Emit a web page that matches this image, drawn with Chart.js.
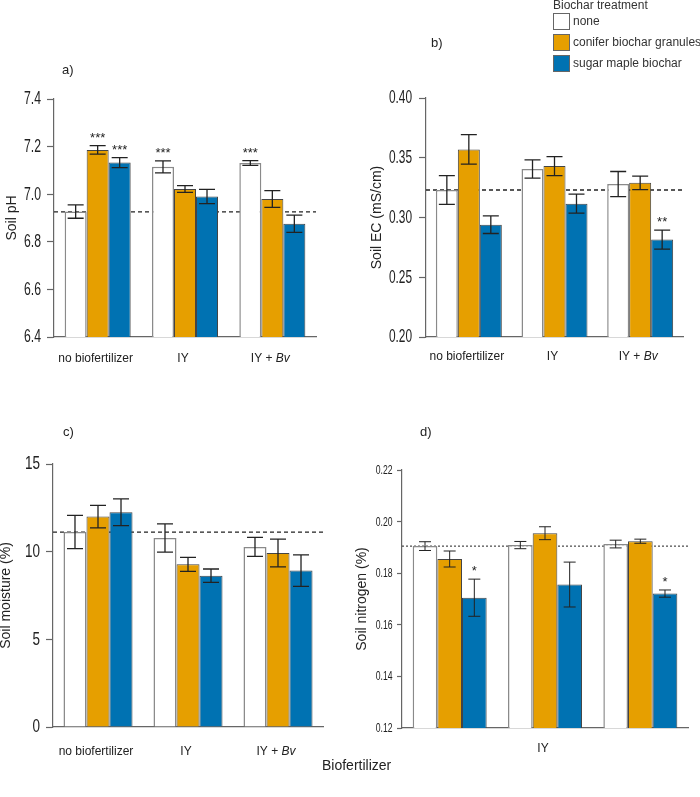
<!DOCTYPE html>
<html>
<head>
<meta charset="utf-8">
<script src="https://cdn.jsdelivr.net/npm/chart.js@4.4.1/dist/chart.umd.min.js"></script>
<style>
  body { margin: 0; background: #fff; }
  #wrap { position: relative; width: 700px; height: 797px; font-family: 'Liberation Sans', Arial, sans-serif; color: #222; }
  canvas { position: absolute; }
  .txt { position: absolute; font-size: 13px; white-space: nowrap; }
  .leg { position: absolute; font-size: 12px; white-space: nowrap; color: #333; }
  .box { position: absolute; width: 15px; height: 15px; border: 1px solid #666; }
</style>
</head>
<body>
<div id="wrap">
  <canvas id="chart-a" width="350" height="400" style="left:0;top:0"></canvas>
  <canvas id="chart-b" width="350" height="400" style="left:350px;top:0"></canvas>
  <canvas id="chart-c" width="350" height="397" style="left:0;top:400px"></canvas>
  <canvas id="chart-d" width="350" height="397" style="left:350px;top:400px"></canvas>

  <div class="txt" style="left:62px;top:62px">a)</div>
  <div class="txt" style="left:431px;top:35px">b)</div>
  <div class="txt" style="left:63px;top:424px">c)</div>
  <div class="txt" style="left:420px;top:424px">d)</div>

  <div class="leg" style="left:553px;top:-2px">Biochar treatment</div>
  <div class="box" style="left:553px;top:13px;background:#fff"></div>
  <div class="leg" style="left:573px;top:14px">none</div>
  <div class="box" style="left:553px;top:34px;background:#E69F00"></div>
  <div class="leg" style="left:573px;top:35px">conifer biochar granules</div>
  <div class="box" style="left:553px;top:55px;background:#0072B2"></div>
  <div class="leg" style="left:573px;top:56px">sugar maple biochar</div>

  <div class="txt" style="left:322px;top:757px;font-size:14px">Biofertilizer</div>
</div>

<script>
// categories and treatments
const categories = ['no biofertilizer', 'IY', 'IY + Bv'];
const nitrogenCategories = ['', 'IY', ''];
const treatments = ['none', 'conifer biochar granules', 'sugar maple biochar'];
const colors = ['#ffffff', '#E69F00', '#0072B2'];

// a) soil pH
const phNone = [6.927, 7.115, 7.131];
const phConifer = [7.186, 7.022, 6.980];
const phMaple = [7.133, 6.990, 6.876];
const phNoneErr = [0.028, 0.025, 0.010];
const phConiferErr = [0.018, 0.014, 0.035];
const phMapleErr = [0.021, 0.030, 0.036];
const phNoneStars = ['', '***', '***'];
const phConiferStars = ['***', '', ''];
const phMapleStars = ['***', '', ''];
const phControl = 6.926;
const phTicks = [6.4, 6.6, 6.8, 7.0, 7.2, 7.4];

// b) soil EC
const ecNone = [0.323, 0.3406, 0.328];
const ecConifer = [0.357, 0.343, 0.329];
const ecMaple = [0.294, 0.3116, 0.2815];
const ecNoneErr = [0.012, 0.0077, 0.0105];
const ecConiferErr = [0.0124, 0.008, 0.0056];
const ecMapleErr = [0.0074, 0.008, 0.008];
const ecMapleStars = ['', '', '**'];
const ecControl = 0.323;
const ecTicks = [0.20, 0.25, 0.30, 0.35, 0.40];

// c) soil moisture
const moistNone = [11.12, 10.78, 10.27];
const moistConifer = [12.0, 9.28, 9.92];
const moistMaple = [12.25, 8.63, 8.92];
const moistNoneErr = [0.95, 0.81, 0.54];
const moistConiferErr = [0.64, 0.40, 0.79];
const moistMapleErr = [0.76, 0.38, 0.90];
const moistControl = 11.12;
const moistTicks = [0, 5, 10, 15];

// d) soil nitrogen
const nNone = [0.1905, 0.1909, 0.1913];
const nConifer = [0.1855, 0.1955, 0.1924];
const nMaple = [0.1705, 0.1756, 0.1721];
const nNoneErr = [0.0017, 0.0014, 0.0015];
const nConiferErr = [0.0031, 0.0025, 0.0008];
const nMapleErr = [0.0072, 0.0087, 0.0014];
const nMapleStars = ['*', '', '*'];
const nControl = 0.1905;
const nTicks = [0.12, 0.14, 0.16, 0.18, 0.20, 0.22];

const regular = "'Liberation Sans', Arial, sans-serif";

// error bars, stars, control line, category labels, tick labels and y title
const extras = {
    id: 'extras',
    beforeDatasetsDraw(chart, args, opts) {
        const ctx = chart.ctx;
        const area = chart.chartArea;
        const yr = chart.scales.y.getPixelForValue(opts.control);
        ctx.save();
        ctx.setLineDash(opts.dash);
        ctx.strokeStyle = '#222';
        ctx.lineWidth = opts.refWidth;
        ctx.beginPath();
        ctx.moveTo(area.left, yr);
        ctx.lineTo(area.right, yr);
        ctx.stroke();
        ctx.restore();
    },
    afterDatasetsDraw(chart, args, opts) {
        const ctx = chart.ctx;
        const y = chart.scales.y;
        const x = chart.scales.x;
        const area = chart.chartArea;
        ctx.save();
        chart.data.datasets.forEach((ds, di) => {
            const meta = chart.getDatasetMeta(di);
            meta.data.forEach((bar, i) => {
                const v = ds.data[i], e = ds.errors[i];
                const top = y.getPixelForValue(v + e);
                const bot = y.getPixelForValue(v - e);
                ctx.strokeStyle = '#222';
                ctx.lineWidth = opts.errWidth;
                ctx.beginPath();
                ctx.moveTo(bar.x, top); ctx.lineTo(bar.x, bot);
                ctx.moveTo(bar.x - opts.cap, top); ctx.lineTo(bar.x + opts.cap, top);
                ctx.moveTo(bar.x - opts.cap, bot); ctx.lineTo(bar.x + opts.cap, bot);
                ctx.stroke();
                if (ds.stars && ds.stars[i]) {
                    ctx.fillStyle = '#222';
                    ctx.font = '13px ' + regular;
                    ctx.textAlign = 'center';
                    ctx.textBaseline = 'alphabetic';
                    ctx.fillText(ds.stars[i], bar.x, top - 4);
                }
            });
        });

        // category labels, "Bv" in italics
        ctx.fillStyle = '#222';
        ctx.textBaseline = 'middle';
        chart.data.labels.forEach((lab, i) => {
            const cx = x.getPixelForValue(i) - 2;
            const cy = area.bottom + opts.labelGap;
            if (lab.endsWith('Bv')) {
                const a = lab.slice(0, -2);
                ctx.font = '12px ' + regular;
                const wa = ctx.measureText(a).width;
                ctx.font = 'italic 12px ' + regular;
                const wb = ctx.measureText('Bv').width;
                const sx = cx - (wa + wb) / 2;
                ctx.textAlign = 'left';
                ctx.font = '12px ' + regular;
                ctx.fillText(a, sx, cy);
                ctx.font = 'italic 12px ' + regular;
                ctx.fillText('Bv', sx + wa, cy);
            } else {
                ctx.font = '12px ' + regular;
                ctx.textAlign = 'center';
                ctx.fillText(lab, cx, cy);
            }
        });

        // y tick labels in a condensed face
        ctx.font = opts.tickSize + 'px ' + regular;
        ctx.textAlign = 'right';
        ctx.textBaseline = 'middle';
        y.ticks.forEach(t => {
            const py = y.getPixelForValue(t.value);
            ctx.save();
            ctx.translate(area.left - opts.tickGap, py + 0.5);
            ctx.scale(opts.stretch, 1);
            ctx.fillText(Number(t.value).toFixed(opts.decimals), 0, 0);
            ctx.restore();
        });

        // y axis title
        ctx.translate(opts.titleX, (area.top + area.bottom) / 2);
        ctx.rotate(-Math.PI / 2);
        ctx.font = '14px ' + regular;
        ctx.textAlign = 'center';
        ctx.textBaseline = 'middle';
        ctx.fillStyle = '#222';
        ctx.fillText(opts.title, 0, 0);
        ctx.restore();
    }
};

function makePanel(id, p) {
    const canvas = document.getElementById(id);
    const W = canvas.width, H = canvas.height;
    const sets = [p.none, p.conifer, p.maple].map((vals, k) => ({
        label: treatments[k],
        data: vals,
        errors: [p.noneErr, p.coniferErr, p.mapleErr][k],
        stars: [p.noneStars, p.coniferStars, p.mapleStars][k],
        backgroundColor: colors[k],
        borderColor: k === 0 ? '#8a8a8a' : '#444',
        borderWidth: k === 0 ? 1.5 : 1,
        barPercentage: 1,
        categoryPercentage: p.catPct
    }));
    return new Chart(canvas, {
        type: 'bar',
        data: { labels: p.labels, datasets: sets },
        options: {
            responsive: false,
            animation: false,
            layout: { padding: { left: 0, right: W - p.right, top: p.top, bottom: 0 } },
            plugins: {
                legend: { display: false },
                tooltip: { enabled: false },
                extras: {
                    control: p.control, dash: p.dash, refWidth: p.refWidth,
                    errWidth: p.errWidth, cap: p.cap, labelGap: p.labelGap,
                    title: p.title, titleX: p.titleX, tickGap: p.tickGap,
                    tickSize: p.tickSize, stretch: p.stretch, decimals: p.decimals
                }
            },
            scales: {
                x: {
                    grid: { drawOnChartArea: false, drawTicks: false },
                    border: { color: '#666', width: 1.2 },
                    ticks: { display: false },
                    afterFit: s => { s.height = H - p.bottom; }
                },
                y: {
                    min: p.ticks[0],
                    max: p.ticks[p.ticks.length - 1],
                    afterBuildTicks: s => { s.ticks = p.ticks.map(v => ({ value: v })); },
                    grid: { drawOnChartArea: false, tickLength: p.tickLen, color: '#666', tickWidth: 1.2 },
                    border: { color: '#666', width: 1.2 },
                    ticks: { display: false },
                    afterFit: s => { s.width = p.left; }
                }
            }
        },
        plugins: [extras]
    });
}

const chartA = makePanel('chart-a', {
    labels: categories, none: phNone, conifer: phConifer, maple: phMaple,
    noneErr: phNoneErr, coniferErr: phConiferErr, mapleErr: phMapleErr,
    noneStars: phNoneStars, coniferStars: phConiferStars, mapleStars: phMapleStars,
    control: phControl, ticks: phTicks, decimals: 1, tickSize: 18, stretch: 0.68,
    tickGap: 13, tickLen: 7,
    left: 54, right: 316, top: 99, bottom: 337, catPct: 0.756,
    dash: [4, 3], refWidth: 1.3, errWidth: 1.3, cap: 8, labelGap: 22,
    title: 'Soil pH', titleX: 12
});

const chartB = makePanel('chart-b', {
    labels: categories, none: ecNone, conifer: ecConifer, maple: ecMaple,
    noneErr: ecNoneErr, coniferErr: ecConiferErr, mapleErr: ecMapleErr,
    mapleStars: ecMapleStars,
    control: ecControl, ticks: ecTicks, decimals: 2, tickSize: 18, stretch: 0.66,
    tickGap: 14, tickLen: 7,
    left: 76, right: 333, top: 98, bottom: 337, catPct: 0.77,
    dash: [4, 3], refWidth: 1.3, errWidth: 1.3, cap: 8, labelGap: 20,
    title: 'Soil EC (mS/cm)', titleX: 27
});

const chartC = makePanel('chart-c', {
    labels: categories, none: moistNone, conifer: moistConifer, maple: moistMaple,
    noneErr: moistNoneErr, coniferErr: moistConiferErr, mapleErr: moistMapleErr,
    control: moistControl, ticks: moistTicks, decimals: 0, tickSize: 18, stretch: 0.75,
    tickGap: 13, tickLen: 7,
    left: 53, right: 323, top: 64, bottom: 327, catPct: 0.767,
    dash: [4, 3], refWidth: 1.3, errWidth: 1.3, cap: 8, labelGap: 25,
    title: 'Soil moisture (%)', titleX: 6
});

const chartD = makePanel('chart-d', {
    labels: nitrogenCategories, none: nNone, conifer: nConifer, maple: nMaple,
    noneErr: nNoneErr, coniferErr: nConiferErr, mapleErr: nMapleErr,
    mapleStars: nMapleStars,
    control: nControl, ticks: nTicks, decimals: 2, tickSize: 12.5, stretch: 0.69,
    tickGap: 9.5, tickLen: 5,
    left: 52, right: 338, top: 70, bottom: 328, catPct: 0.776,
    dash: [2, 2], refWidth: 1, errWidth: 1, cap: 6, labelGap: 21,
    title: 'Soil nitrogen (%)', titleX: 12
});
</script>
</body>
</html>
